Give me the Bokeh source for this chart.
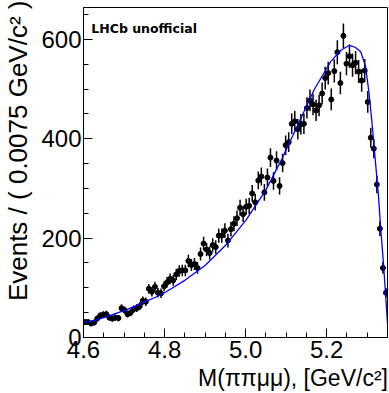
import numpy as np
from bokeh.plotting import figure
from bokeh.models import Range1d, FixedTicker, Label, ColumnDataSource
from bokeh.embed import file_html
from bokeh.resources import INLINE

# ---- data ----
bin_lo = 4.6
bin_width = 0.0075
counts = [31, 31, 28, 30, 38, 44, 46, 47, 40, 38,
          40, 39, 59, 55, 47, 50, 57, 59, 63, 74,
          72, 98, 92, 102, 90, 89, 103, 111, 118, 115,
          127, 134, 135, 135, 154, 146, 148, 140, 168, 189,
          177, 170, 186, 182, 205, 205, 215, 195, 218, 229,
          240, 261, 248, 263, 265, 290, 272, 316, 324, 292,
          322, 362, 315, 356, 305, 351, 387, 393, 430, 435,
          419, 429, 430, 462, 477, 469, 457, 467, 491, 522,
          532, 479, 536, 574, 512, 607, 551, 566, 548, 553,
          535, 517, 537, 474, 402, 380, 308, 219, 140, 90]

fit_x = [4.600, 4.625, 4.650, 4.675, 4.700, 4.725, 4.750, 4.775, 4.800,
         4.850, 4.900, 4.950, 5.000, 5.050, 5.090, 5.130, 5.170, 5.210,
         5.235, 5.256, 5.270, 5.284, 5.296, 5.304, 5.312, 5.320, 5.328,
         5.333, 5.340, 5.345, 5.350]
fit_y = [30, 34, 40, 47, 54, 62, 71, 80, 90,
         115, 145, 185, 235, 297, 360, 430, 500, 555,
         578, 588, 584, 575, 545, 495, 430, 356, 282,
         222, 150, 90, 28]

x_ticks = [4.6, 4.8, 5.0, 5.2]
x_tick_labels = ["4.6", "4.8", "5.0", "5.2"]
y_ticks = [0, 200, 400, 600]
y_tick_labels = ["0", "200", "400", "600"]

x_title = "M(ππμμ), [GeV/c²]"
y_title = "Events / ( 0.0075 GeV/c² )"

x_min, x_max = 4.6, 5.35
y_min, y_max = 0, 664

# ---- derived columns ----
centers = [bin_lo + (i + 0.5) * bin_width for i in range(len(counts))]
err = [np.sqrt(c) for c in counts]
src = ColumnDataSource(dict(
    x=centers, y=counts,
    lo=[c - e for c, e in zip(counts, err)],
    hi=[c + e for c, e in zip(counts, err)],
))

FONT = "Liberation Sans"
NBSP = "\u00a0"

p = figure(width=389, height=393, output_backend="svg", toolbar_location=None,
           x_range=Range1d(x_min, x_max), y_range=Range1d(y_min, y_max),
           min_border_left=76, min_border_right=2, min_border_top=7,
           min_border_bottom=56)
p.background_fill_color = "white"
p.border_fill_color = "white"
p.outline_line_color = "black"
p.outline_line_width = 1
p.grid.visible = False

# axes
p.xaxis.ticker = FixedTicker(ticks=x_ticks,
                             minor_ticks=list(np.round(np.arange(4.6, 5.3501, 0.05), 3)))
p.yaxis.ticker = FixedTicker(ticks=y_ticks, minor_ticks=list(range(0, 664, 50)))
p.xaxis.major_label_overrides = {t: l for t, l in zip(x_ticks, x_tick_labels)}
p.yaxis.major_label_overrides = {t: l for t, l in zip(y_ticks, y_tick_labels)}
for ax in (p.xaxis[0], p.yaxis[0]):
    ax.axis_line_color = "black"
    ax.axis_line_width = 1
    ax.major_tick_in = 9
    ax.major_tick_out = 0
    ax.minor_tick_in = 5
    ax.minor_tick_out = 0
    ax.major_tick_line_color = "black"
    ax.minor_tick_line_color = "black"
    ax.major_label_text_font = FONT
    ax.major_label_text_font_size = "24px"
    ax.major_label_text_color = "black"
    ax.axis_label_text_font = FONT
    ax.axis_label_text_font_style = "normal"
    ax.axis_label_text_color = "black"
p.xaxis.major_label_standoff = 3
p.yaxis.major_label_standoff = 2

# titles shifted toward the axis end (ROOT style) with leading no-break spaces
p.xaxis.axis_label = NBSP * 18 + x_title
p.xaxis.axis_label_text_font_size = "23px"
p.xaxis.axis_label_standoff = 4
p.yaxis.axis_label = NBSP * 6 + y_title
p.yaxis.axis_label_text_font_size = "26px"
p.yaxis.axis_label_standoff = 5

# data with error bars
p.segment(x0="x", y0="lo", x1="x", y1="hi", source=src, line_color="black", line_width=1.5)
p.scatter(x="x", y="y", source=src, marker="circle", size=5, fill_color="black",
          line_color="black")

# fit curve
p.line(fit_x, fit_y, line_color="#0000ff", line_width=1.3)

# texts
p.add_layout(Label(x=4.6193, y=621.7, text="LHCb unofficial", text_align="left",
                   text_baseline="alphabetic", text_font="DejaVu Sans",
                   text_font_style="bold", text_font_size="12.5px", text_color="black"))

open("out.html", "w").write(file_html(p, INLINE))
